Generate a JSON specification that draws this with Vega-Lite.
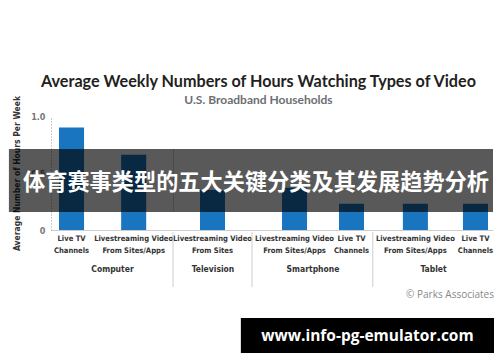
{
  "$schema": "https://vega.github.io/schema/vega-lite/v6.json",
  "background": "white",
  "padding": {"left": 8, "top": 74, "right": 0, "bottom": 0},
  "config": {
    "view": {"stroke": null},
    "font": "DejaVu Sans Condensed",
    "axisX": {
      "domainColor": "#cccccc", "ticks": false, "labelAngle": 0, "labelFont": "DejaVu Sans Condensed",
      "labelFontWeight": "bold", "labelFontSize": 7.6, "labelColor": "#333333", "labelPadding": 4,
      "labelLineHeight": 12, "titleFont": "DejaVu Sans Condensed", "titleFontSize": 8.5,
      "titleFontWeight": "bold", "titleColor": "#333333", "titlePadding": 11, "grid": false
    },
    "axisY": {
      "domainColor": "#999999", "domainDash": [1, 2], "ticks": false, "grid": false,
      "labelFont": "DejaVu Sans Condensed", "labelFontWeight": "bold", "labelFontSize": 9,
      "labelColor": "#777777", "labelPadding": 6, "titleFont": "DejaVu Sans Condensed",
      "titleFontSize": 8.5, "titleFontWeight": "bold", "titleColor": "#333333", "titlePadding": 9
    }
  },
  "datasets": {
    "video": [
      {"device": "Computer", "label": "Live TV|Channels", "hours": 0.9},
      {"device": "Computer", "label": "Livestreaming Video|From Sites/Apps", "hours": 0.66},
      {"device": "Television", "label": "Livestreaming Video|From Sites", "hours": 0.35},
      {"device": "Smartphone", "label": "Livestreaming Video|From Sites/Apps", "hours": 0.37},
      {"device": "Smartphone", "label": "Live TV|Channels", "hours": 0.23},
      {"device": "Tablet", "label": "Livestreaming Video|From Sites/Apps", "hours": 0.23},
      {"device": "Tablet", "label": "Live TV|Channels", "hours": 0.23}
    ],
    "banner": [{"caption": "体育赛事类型的五大关键分类及其发展趋势分析"}],
    "site": [{"site": "www.info-pg-emulator.com", "source": "© Parks Associates"}]
  },
  "title": {
    "text": "Average Weekly Numbers of Hours Watching Types of Video",
    "subtitle": "U.S. Broadband Households",
    "anchor": "middle", "font": "Lato", "fontSize": 16.2, "fontWeight": "bold", "dx": 7,
    "color": "#231f20", "subtitleFont": "Lato", "subtitleFontSize": 12,
    "subtitleFontWeight": "bold", "subtitleColor": "#6d6e71", "subtitlePadding": 5, "offset": -11
  },
  "spacing": 2,
  "vconcat": [
    {
      "spacing": 0,
      "bounds": "flush",
      "resolve": {"scale": {"x": "independent", "y": "independent"}},
      "hconcat": [
        {
          "width": 122, "height": 114,
          "layer": [
            {
              "data": {"name": "video"},
              "transform": [{"filter": "datum.device == 'Computer'"}],
              "mark": {"type": "bar", "color": "#1a75c0"},
              "encoding": {
                "x": {"field": "label", "type": "nominal", "sort": null,
                  "scale": {"paddingInner": 0.597, "paddingOuter": 0.28, "align": 0.23},
                  "axis": {"title": "Computer", "labelExpr": "split(datum.value, '|')"}},
                "y": {"field": "hours", "type": "quantitative", "scale": {"domain": [0, 1]},
                  "axis": {"title": "Average Number of Hours Per Week", "values": [0, 0.5, 1],
                    "labelExpr": "datum.value == 0 ? '0' : format(datum.value, '.1f')"}}
              }
            },
            {
              "data": {"name": "banner"},
              "mark": {"type": "rect", "color": "#000000", "opacity": 0.65},
              "encoding": {
                "x": {"datum": "Live TV|Channels", "type": "nominal", "bandPosition": -2.0},
                "x2": {"datum": "Livestreaming Video|From Sites/Apps", "bandPosition": 2.08},
                "y": {"datum": 0.71, "type": "quantitative"},
                "y2": {"datum": 0.158}
              }
            }
          ]
        },
        {
          "width": 79, "height": 114,
          "layer": [
            {
              "data": {"name": "video"},
              "transform": [{"filter": "datum.device == 'Television'"}],
              "mark": {"type": "bar", "color": "#1a75c0"},
              "encoding": {
                "x": {"field": "label", "type": "nominal", "sort": null,
                  "scale": {"paddingInner": 0.6, "paddingOuter": 0.432, "align": 0.5},
                  "axis": {"title": "Television", "labelExpr": "split(datum.value, '|')"}},
                "y": {"field": "hours", "type": "quantitative", "scale": {"domain": [0, 1]}, "axis": null}
              }
            },
            {
              "data": {"name": "banner"},
              "mark": {"type": "rule", "color": "#cccccc"},
              "encoding": {
                "x": {"datum": "Livestreaming Video|From Sites", "type": "nominal", "bandPosition": -1.08},
                "y": {"datum": -0.02, "type": "quantitative"},
                "y2": {"datum": -0.5}
              }
            },
            {
              "data": {"name": "banner"},
              "mark": {"type": "rect", "color": "#000000", "opacity": 0.65},
              "encoding": {
                "y": {"datum": 0.71, "type": "quantitative"},
                "y2": {"datum": 0.158}
              }
            }
          ]
        },
        {
          "width": 121, "height": 114,
          "layer": [
            {
              "data": {"name": "video"},
              "transform": [{"filter": "datum.device == 'Smartphone'"}],
              "mark": {"type": "bar", "color": "#1a75c0"},
              "encoding": {
                "x": {"field": "label", "type": "nominal", "sort": null,
                  "scale": {"paddingInner": 0.561, "paddingOuter": 0.342, "align": 0.77},
                  "axis": {"title": "Smartphone", "labelExpr": "split(datum.value, '|')"}},
                "y": {"field": "hours", "type": "quantitative", "scale": {"domain": [0, 1]}, "axis": null}
              }
            },
            {
              "data": {"name": "banner"},
              "mark": {"type": "rule", "color": "#cccccc"},
              "encoding": {
                "x": {"datum": "Livestreaming Video|From Sites/Apps", "type": "nominal", "bandPosition": -1.2},
                "y": {"datum": -0.02, "type": "quantitative"},
                "y2": {"datum": -0.5}
              }
            },
            {
              "data": {"name": "banner"},
              "mark": {"type": "rect", "color": "#000000", "opacity": 0.65},
              "encoding": {
                "y": {"datum": 0.71, "type": "quantitative"},
                "y2": {"datum": 0.158}
              }
            }
          ]
        },
        {
          "width": 120, "height": 114,
          "title": {
            "text": "体育赛事类型的五大关键分类及其发展趋势分析",
            "orient": "top", "anchor": "end", "frame": "group", "offset": -89, "baseline": "middle",
            "font": "Noto Sans CJK SC", "fontSize": 22.2, "fontWeight": "bold", "color": "#ffffff", "dx": -4
          },
          "layer": [
            {
              "data": {"name": "video"},
              "transform": [{"filter": "datum.device == 'Tablet'"}],
              "mark": {"type": "bar", "color": "#1a75c0"},
              "encoding": {
                "x": {"field": "label", "type": "nominal", "sort": null,
                  "scale": {"paddingInner": 0.583, "paddingOuter": 0.29, "align": 0.857},
                  "axis": {"title": "Tablet", "labelExpr": "split(datum.value, '|')"}},
                "y": {"field": "hours", "type": "quantitative", "scale": {"domain": [0, 1]}, "axis": null}
              }
            },
            {
              "data": {"name": "banner"},
              "mark": {"type": "rule", "color": "#cccccc"},
              "encoding": {
                "x": {"datum": "Livestreaming Video|From Sites/Apps", "type": "nominal", "bandPosition": -1.2},
                "y": {"datum": -0.02, "type": "quantitative"},
                "y2": {"datum": -0.5}
              }
            },
            {
              "data": {"name": "banner"},
              "mark": {"type": "rect", "color": "#000000", "opacity": 0.65},
              "encoding": {
                "y": {"datum": 0.71, "type": "quantitative"},
                "y2": {"datum": 0.158}
              }
            }
          ]
        }
      ]
    },
    {
      "width": 443, "height": 35,
      "data": {"name": "site"},
      "title": {"text": "© Parks Associates", "anchor": "end", "orient": "top", "frame": "group", "baseline": "bottom",
        "fontSize": 10, "fontWeight": "normal", "color": "#888888", "offset": 8, "font": "Open Sans"},
      "layer": [
        {
          "mark": {"type": "rect", "color": "#000000"},
          "encoding": {
            "x": {"field": "site", "type": "nominal", "axis": null,
              "scale": {"paddingInner": 0, "paddingOuter": 0.375, "align": 1}}
          }
        },
        {
          "mark": {"type": "text", "color": "#ffffff", "fontSize": 15.5, "fontWeight": "bold", "font": "Open Sans"},
          "encoding": {
            "x": {"field": "site", "type": "nominal", "axis": null},
            "text": {"field": "site"}
          }
        }
      ]
    }
  ]
}
